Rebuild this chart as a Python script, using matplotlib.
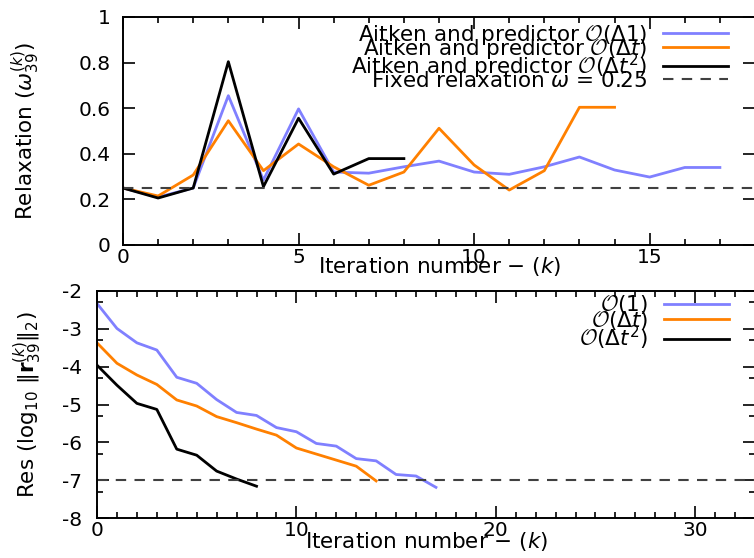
import numpy as np
import matplotlib
matplotlib.use("Agg")
import matplotlib.pyplot as plt
import matplotlib.ticker as mticker

plt.rcParams["font.family"] = "DejaVu Sans"
plt.rcParams["mathtext.fontset"] = "custom"
plt.rcParams["mathtext.rm"] = "DejaVu Sans"
plt.rcParams["mathtext.it"] = "DejaVu Sans:italic"
plt.rcParams["mathtext.bf"] = "DejaVu Sans:bold"
plt.rcParams["mathtext.cal"] = "cmsy10"
plt.rcParams["axes.unicode_minus"] = False

# ── Data ──────────────────────────────────────────────────────────────────
relax_o1 = [0.25, 0.21, 0.25, 0.655, 0.285, 0.597, 0.32, 0.315, 0.343,
            0.368, 0.32, 0.31, 0.343, 0.386, 0.329, 0.298, 0.34, 0.34]
relax_dt = [0.25, 0.215, 0.307, 0.545, 0.326, 0.443, 0.343, 0.262, 0.32,
            0.512, 0.351, 0.241, 0.326, 0.604, 0.604]
relax_dt2 = [0.25, 0.206, 0.25, 0.804, 0.256, 0.556, 0.311, 0.379, 0.379]
omega_fixed = 0.25

res_o1 = [-2.33, -2.99, -3.37, -3.56, -4.28, -4.44, -4.87, -5.21, -5.29,
          -5.61, -5.72, -6.03, -6.10, -6.43, -6.49, -6.85, -6.89, -7.19]
res_dt = [-3.37, -3.91, -4.22, -4.47, -4.88, -5.04, -5.32, -5.48, -5.65,
          -5.81, -6.15, -6.31, -6.47, -6.63, -7.02]
res_dt2 = [-3.96, -4.49, -4.97, -5.13, -6.18, -6.34, -6.76, -6.97, -7.16]
tol = -7.0

top_labels = [r"Aitken and predictor $\mathcal{O}(\Delta 1)$",
              r"Aitken and predictor $\mathcal{O}(\Delta t)$",
              r"Aitken and predictor $\mathcal{O}(\Delta t^2)$",
              r"Fixed relaxation $\omega$ = 0.25"]
bot_labels = [r"$\mathcal{O}(1)$", r"$\mathcal{O}(\Delta t)$",
              r"$\mathcal{O}(\Delta t^2)$"]

BLUE = "#8080ff"
ORANGE = "#ff8000"
BLACK = "black"
DASH = "#404040"
FS_TICK = 14.5
FS = 15.5
LW = 2.0

W, H = 754, 558
fig = plt.figure(figsize=(W / 100, H / 100), dpi=100)


def px_axes(left, top, right, bottom):
    return fig.add_axes([left / W, 1 - bottom / H, (right - left) / W, (bottom - top) / H])


def style(ax):
    for s in ax.spines.values():
        s.set_linewidth(1.4)
    ax.tick_params(which="both", direction="in", top=True, right=True,
                   labelsize=FS_TICK, width=1.2)
    ax.tick_params(which="major", length=8.5)
    ax.tick_params(which="minor", length=4.5)
    ax.tick_params(axis="x", pad=2.5)


# ── Top: relaxation ───────────────────────────────────────────────────────
ax1 = px_axes(123, 17, 755, 245)
ax1.plot(range(len(relax_o1)), relax_o1, color=BLUE, lw=LW, label=top_labels[0])
ax1.plot(range(len(relax_dt)), relax_dt, color=ORANGE, lw=LW, label=top_labels[1])
ax1.plot(range(len(relax_dt2)), relax_dt2, color=BLACK, lw=LW, label=top_labels[2])
ax1.axhline(omega_fixed, color=DASH, lw=1.5, dashes=(5, 4), label=top_labels[3])
ax1.set_xlim(0, 18)
ax1.set_ylim(0, 1)
ax1.xaxis.set_major_locator(mticker.MultipleLocator(5))
ax1.xaxis.set_minor_locator(mticker.MultipleLocator(1))
ax1.yaxis.set_major_locator(mticker.MultipleLocator(0.2))
ax1.yaxis.set_major_formatter(mticker.FuncFormatter(lambda v, _: f"{v:g}"))
style(ax1)
ax1.tick_params(axis="y", pad=9)
ax1.set_xlabel(r"Iteration number $-$ $(k)$", fontsize=FS)
ax1.set_ylabel(r"Relaxation ($\omega_{39}^{(k)}$)", fontsize=FS)
ax1.xaxis.set_label_coords(0.5, -0.045)
ax1.yaxis.set_label_coords(-0.128, 0.5)
ax1.legend(loc="upper right", bbox_to_anchor=(0.957, 0.975), frameon=False,
           markerfirst=False, fontsize=FS, handlelength=3.0, handletextpad=0.75,
           labelspacing=-0.45, borderpad=0, borderaxespad=0)

# ── Bottom: residual ──────────────────────────────────────────────────────
ax2 = px_axes(97, 291, 755, 518)
ax2.plot(range(len(res_o1)), res_o1, color=BLUE, lw=LW, label=bot_labels[0])
ax2.plot(range(len(res_dt)), res_dt, color=ORANGE, lw=LW, label=bot_labels[1])
ax2.plot(range(len(res_dt2)), res_dt2, color=BLACK, lw=LW, label=bot_labels[2])
ax2.axhline(tol, color=DASH, lw=1.5, dashes=(5, 4))
ax2.set_xlim(0, 33)
ax2.set_ylim(-8, -2)
ax2.xaxis.set_major_locator(mticker.MultipleLocator(10))
ax2.xaxis.set_minor_locator(mticker.MultipleLocator(1))
ax2.yaxis.set_major_locator(mticker.MultipleLocator(1))
ax2.yaxis.set_minor_locator(mticker.FixedLocator(np.arange(-7, -1) - np.log10(2)))
ax2.yaxis.set_major_formatter(mticker.FuncFormatter(lambda v, _: f"{v:g}"))
style(ax2)
ax2.tick_params(axis="y", pad=10.5)
ax2.set_xlabel(r"Iteration number $-$ $(k)$", fontsize=FS)
ax2.set_ylabel(r"Res ($\log_{10}\, \|\mathbf{r}_{39}^{(k)}\|_2$)", fontsize=FS)
ax2.xaxis.set_label_coords(0.5, -0.055)
ax2.yaxis.set_label_coords(-0.08, 0.5)
ax2.legend(loc="upper right", bbox_to_anchor=(0.96, 0.99), frameon=False,
           markerfirst=False, fontsize=FS, handlelength=3.0, handletextpad=0.75,
           labelspacing=-0.35, borderpad=0, borderaxespad=0)

fig.savefig("out.png", dpi=100)
